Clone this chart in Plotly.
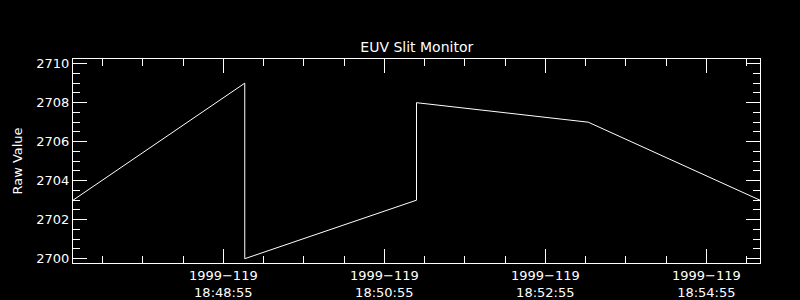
import plotly.graph_objects as go

times = ["1999-04-29 18:47:03", "1999-04-29 18:49:11", "1999-04-29 18:49:11",
         "1999-04-29 18:51:19", "1999-04-29 18:51:19", "1999-04-29 18:53:27",
         "1999-04-29 18:55:35"]
values = [2703, 2709, 2700, 2703, 2708, 2707, 2703]

x_tickvals = ["1999-04-29 18:48:55", "1999-04-29 18:50:55",
              "1999-04-29 18:52:55", "1999-04-29 18:54:55"]
x_ticktext = ["1999\u2212119<br>18:48:55", "1999\u2212119<br>18:50:55",
              "1999\u2212119<br>18:52:55", "1999\u2212119<br>18:54:55"]
y_tickvals = [2700, 2702, 2704, 2706, 2708, 2710]

font = "DejaVu Sans"

fig = go.Figure()
fig.add_trace(go.Scatter(x=times, y=values, mode="lines",
                         line=dict(color="white", width=1), hoverinfo="skip"))

fig.update_layout(
    width=800, height=300,
    margin=dict(l=73, r=40, t=59, b=37),
    paper_bgcolor="black", plot_bgcolor="black",
    showlegend=False,
    font=dict(family=font, color="white", size=13),
    title=dict(text="EUV Slit Monitor", x=0.521, xanchor="center",
               y=0.843, yanchor="middle", font=dict(size=14, color="white")),
    xaxis=dict(
        type="date", automargin=False,
        range=["1999-04-29 18:47:03", "1999-04-29 18:55:35"],
        tickmode="array", tickvals=x_tickvals, ticktext=x_ticktext,
        ticks="inside", ticklen=14, tickcolor="white", tickwidth=1,
        minor=dict(ticks="inside", ticklen=7, dtick=30000,
                   tick0="1999-04-29 18:48:55", tickcolor="white", showgrid=False),
        showline=True, linecolor="white", linewidth=1, mirror="ticks",
        showgrid=False, zeroline=False,
        tickfont=dict(size=13, color="white"),
    ),
    yaxis=dict(
        range=[2699.78, 2710.24], automargin=False,
        tickmode="array", tickvals=y_tickvals,
        ticks="inside", ticklen=14, tickcolor="white", tickwidth=1,
        minor=dict(ticks="inside", ticklen=7, dtick=0.5, tick0=2700,
                   tickcolor="white", showgrid=False),
        showline=True, linecolor="white", linewidth=1, mirror="ticks",
        showgrid=False, zeroline=False,
        tickfont=dict(size=13, color="white"),
        title=dict(text="Raw Value", font=dict(size=13, color="white"), standoff=10),
    ),
)

fig.write_html("out.html")
